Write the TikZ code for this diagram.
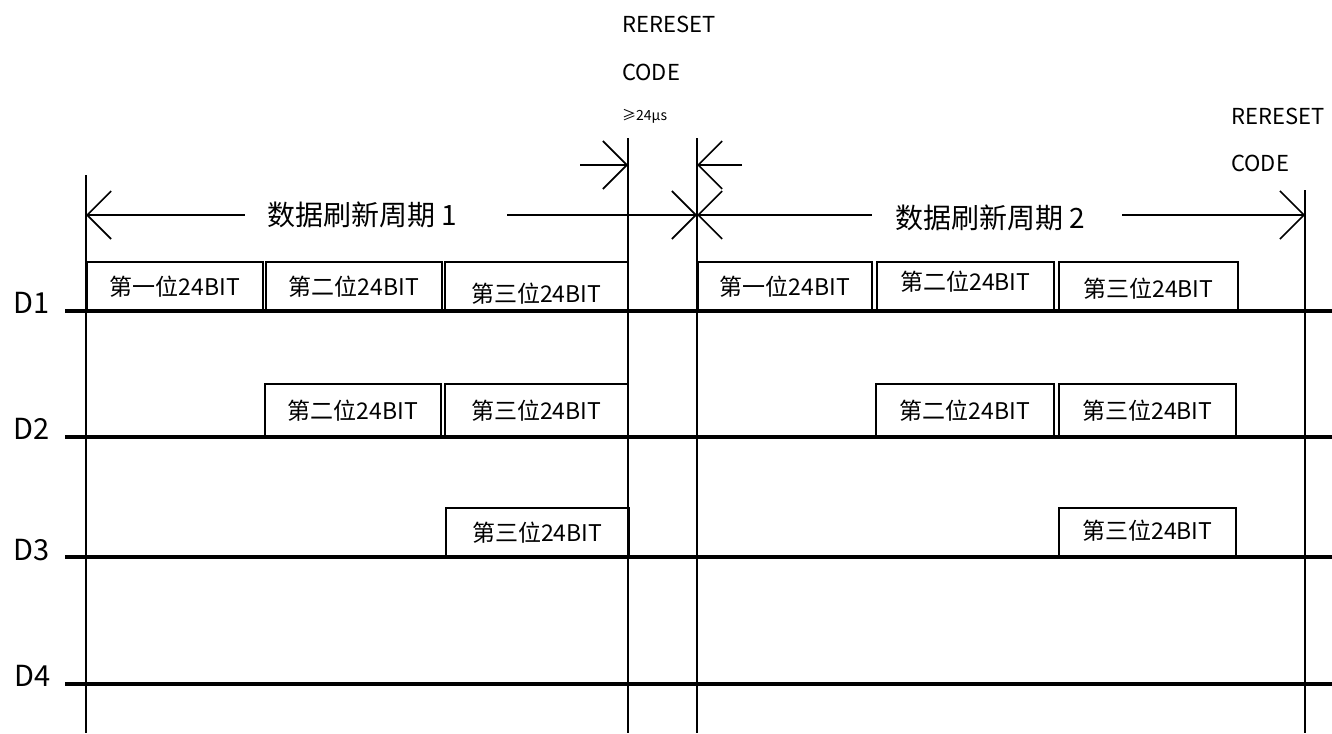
\documentclass[tikz,border=0pt]{standalone}
\usepackage{fontspec}
\setmainfont{Noto Sans CJK SC}
\usetikzlibrary{arrows.meta}
\begin{document}
\begin{tikzpicture}[x=1pt,y=-1pt,
  sig/.style={line width=3.6pt},
  vline/.style={line width=1.7pt},
  bitbox/.style={draw, line width=1.6pt, inner sep=0pt, anchor=south west,
    font=\fontsize{23}{25}\selectfont},
  per/.style={line width=1.6pt},
  tipped/.style={-{Straight Barb[length=24pt,width=48pt]}},
  dlab/.style={font=\fontsize{29}{32}\selectfont},
  plab/.style={font=\fontsize{28}{30}\selectfont, inner sep=0pt},
  rlab/.style={font=\fontsize{22}{24}\selectfont, anchor=west, inner sep=0pt},
  slab/.style={font=\fontsize{14}{16}\selectfont, anchor=west, inner sep=0pt},
  ]
\useasboundingbox (0,0) rectangle (1332,733);
\fill[white] (0,0) rectangle (1332,733);

% vertical marker lines
\coordinate (s1) at (86,175);   \coordinate (e1) at (86,733);
\coordinate (s2) at (628,138);  \coordinate (e2) at (628,733);
\coordinate (s3) at (697,138);  \coordinate (e3) at (697,733);
\coordinate (s4) at (1305,190); \coordinate (e4) at (1305,733);
\draw[vline] (s1) -- (e1);
\draw[vline] (s2) -- (e2);
\draw[vline] (s3) -- (e3);
\draw[vline] (s4) -- (e4);

% reset code labels
\node[rlab] (rr1) at (622,24) {RERESET};
\node[rlab] (rc1) at (622,72) {CODE};
\node[slab] (rt1) at (622,116) {≥24μs};
\node[rlab] (rr2) at (1231,116) {RERESET};
\node[rlab] (rc2) at (1231,163) {CODE};

% reset arrows
\coordinate (ra) at (580,165);  \coordinate (rb) at (628,165);
\coordinate (rc) at (742,165);  \coordinate (rd) at (697,165);
\draw[per,tipped] (ra) -- (rb);
\draw[per,tipped] (rc) -- (rd);

% refresh periods
\coordinate (p1a) at (86,215);  \coordinate (p1b) at (697,215);
\coordinate (p2a) at (697,215); \coordinate (p2b) at (1305,215);
\node[plab] (t1) at (362,215) {数据刷新周期 1};
\node[plab] (t2) at (990,215) {\raisebox{-3pt}[\height][\depth]{数据刷新周期 2}};
\draw[per,tipped] ([xshift=-22pt]t1.west) -- (p1a);
\draw[per,tipped] ([xshift=50pt]t1.east) -- (p1b);
\draw[per,tipped] ([xshift=-23pt]t2.west) -- (p2a);
\draw[per,tipped] ([xshift=37pt]t2.east) -- (p2b);

% D1 boxes
\node[bitbox, minimum width=176pt, minimum height=48pt] (a11) at (86,311) {第一位24BIT};
\node[bitbox, minimum width=176pt, minimum height=48pt] (a12) at (265,311) {第二位24BIT};
\node[bitbox, minimum width=183pt, minimum height=48pt] (a13) at (444,311) {\raisebox{-7pt}[\height][\depth]{第三位24BIT}};
\node[bitbox, minimum width=174pt, minimum height=48pt] (b11) at (697,311) {第一位24BIT};
\node[bitbox, minimum width=177pt, minimum height=48pt] (b12) at (876,311) {\raisebox{5pt}[\height][\depth]{第二位24BIT}};
\node[bitbox, minimum width=179pt, minimum height=48pt] (b13) at (1058,311) {\raisebox{-2pt}[\height][\depth]{第三位24BIT}};

% D2 boxes
\node[bitbox, minimum width=176pt, minimum height=52pt] (a22) at (264,437) {第二位24BIT};
\node[bitbox, minimum width=183pt, minimum height=52pt] (a23) at (444,437) {第三位24BIT};
\node[bitbox, minimum width=178pt, minimum height=52pt] (b22) at (875,437) {第二位24BIT};
\node[bitbox, minimum width=177pt, minimum height=52pt] (b23) at (1058,437) {第三位24BIT};

% D3 boxes
\node[bitbox, minimum width=183pt, minimum height=48pt] (a33) at (445,557) {第三位24BIT};
\node[bitbox, minimum width=177pt, minimum height=48pt] (b33) at (1058,557) {\raisebox{2pt}[\height][\depth]{第三位24BIT}};

% signal lines
\node[dlab] (D1) at (32,303) {D1};
\node[dlab] (D2) at (32,429) {D2};
\node[dlab] (D3) at (32,550) {D3};
\node[dlab] (D4) at (33,676) {D4};
\coordinate (d1s) at (65,311); \coordinate (d1e) at (1332,311);
\coordinate (d2s) at (65,437); \coordinate (d2e) at (1332,437);
\coordinate (d3s) at (65,557); \coordinate (d3e) at (1332,557);
\coordinate (d4s) at (65,684); \coordinate (d4e) at (1332,684);
\draw[sig] (d1s) -- (d1e);
\draw[sig] (d2s) -- (d2e);
\draw[sig] (d3s) -- (d3e);
\draw[sig] (d4s) -- (d4e);
\end{tikzpicture}
\end{document}
